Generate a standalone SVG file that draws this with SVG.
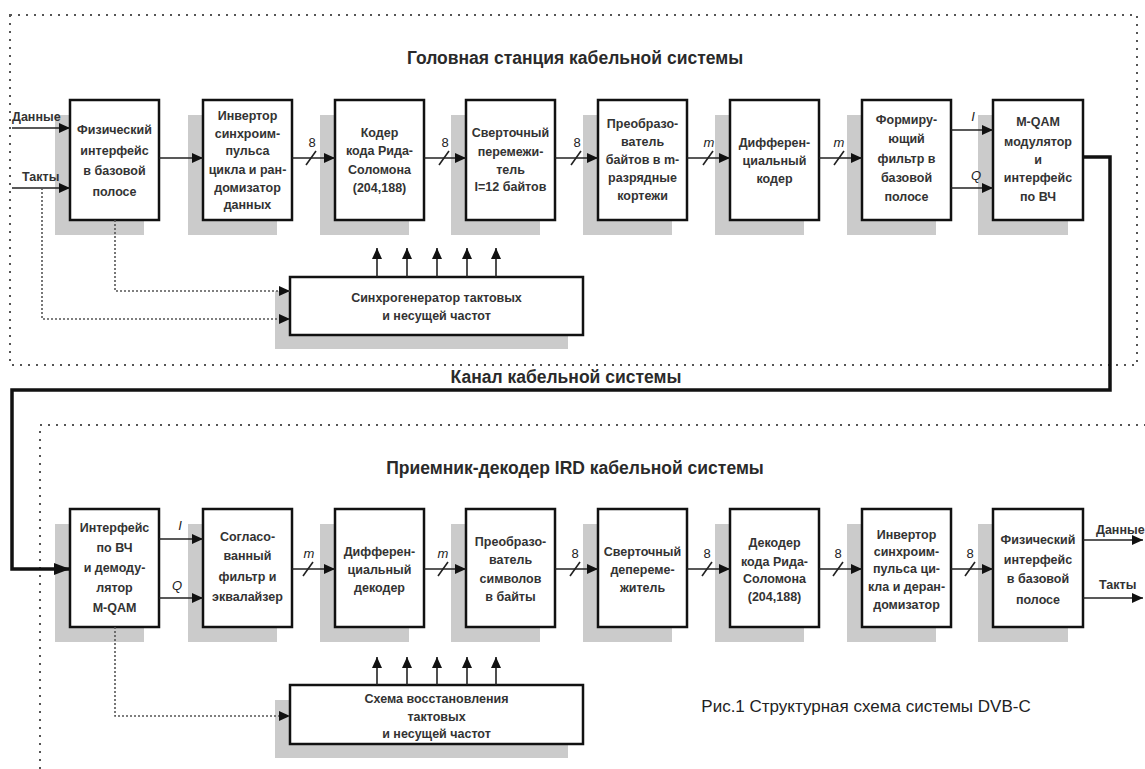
<svg xmlns="http://www.w3.org/2000/svg" width="1145" height="769" viewBox="0 0 1145 769">
<style>
.bx{fill:#fff;stroke:#111;stroke-width:2.5}
.sh{fill:#cbcbcb}
.t{font-family:"Liberation Sans",Arial,sans-serif;font-size:12.5px;font-weight:bold;fill:#333;text-anchor:middle}
.ttl{font-family:"Liberation Sans",Arial,sans-serif;font-size:17.5px;font-weight:bold;fill:#2a2a2a;text-anchor:middle}
.cap{font-family:"Liberation Sans",Arial,sans-serif;font-size:17px;fill:#222;text-anchor:middle}
.lb{font-family:"Liberation Sans",Arial,sans-serif;font-size:12.5px;font-weight:bold;fill:#333}
.lbi{font-family:"Liberation Sans",Arial,sans-serif;font-size:13px;font-style:italic;fill:#222;text-anchor:middle}
.ln{fill:none;stroke:#222;stroke-width:1.6}
.dl{fill:none;stroke:#555;stroke-width:1.6;stroke-dasharray:2 2}
.thick{fill:none;stroke:#111;stroke-width:3.5}
.brd{fill:none;stroke:#555;stroke-width:2;stroke-dasharray:2 6}
.sl{stroke:#222;stroke-width:1.6}
</style>
<defs>
<marker id="ar" markerUnits="userSpaceOnUse" markerWidth="11" markerHeight="10" refX="11" refY="5" orient="auto"><path d="M0,0 L11,5 L0,10 z" fill="#111"/></marker>
<marker id="arT" markerUnits="userSpaceOnUse" markerWidth="16" markerHeight="12" refX="16" refY="6" orient="auto"><path d="M0,0 L16,6 L0,12 z" fill="#111"/></marker>
</defs>
<rect width="1145" height="769" fill="#fff"/>

<!-- borders and titles -->
<g id="head-station-frame">
<rect class="brd" x="10" y="15" width="1127" height="350"/>
<text class="ttl" x="575" y="64">Головная станция кабельной системы</text>
</g>
<g id="ird-frame">
<path class="brd" d="M40,769 V425 H1145"/>
<text class="ttl" x="575" y="474">Приемник-декодер IRD кабельной системы</text>
</g>
<text class="ttl" x="566" y="383">Канал кабельной системы</text>
<text class="cap" x="866" y="712">Рис.1  Структурная схема системы DVB-C</text>

<!-- top row -->
<g id="t1"><rect class="sh" x="55" y="115" width="89" height="120"/><rect class="bx" x="70" y="100" width="89" height="120"/>
<text class="t"><tspan x="114.5" y="134">Физический</tspan><tspan x="114.5" y="155">интерфейс</tspan><tspan x="114.5" y="175">в базовой</tspan><tspan x="114.5" y="196">полосе</tspan></text></g>
<g id="t2"><rect class="sh" x="188" y="115" width="89" height="120"/><rect class="bx" x="203" y="100" width="89" height="120"/>
<text class="t"><tspan x="247.5" y="120">Инвертор</tspan><tspan x="247.5" y="138">синхроим-</tspan><tspan x="247.5" y="155">пульса</tspan><tspan x="247.5" y="174">цикла и ран-</tspan><tspan x="247.5" y="192">домизатор</tspan><tspan x="247.5" y="209">данных</tspan></text></g>
<g id="t3"><rect class="sh" x="320" y="115" width="89" height="120"/><rect class="bx" x="335" y="100" width="89" height="120"/>
<text class="t"><tspan x="379.5" y="137">Кодер</tspan><tspan x="379.5" y="155">кода Рида-</tspan><tspan x="379.5" y="174">Соломона</tspan><tspan x="379.5" y="192">(204,188)</tspan></text></g>
<g id="t4"><rect class="sh" x="451" y="115" width="89" height="120"/><rect class="bx" x="466" y="100" width="89" height="120"/>
<text class="t"><tspan x="510.5" y="137">Сверточный</tspan><tspan x="510.5" y="156">перемежи-</tspan><tspan x="510.5" y="174">тель</tspan><tspan x="510.5" y="191">I=12 байтов</tspan></text></g>
<g id="t5"><rect class="sh" x="583" y="115" width="89" height="120"/><rect class="bx" x="598" y="100" width="89" height="120"/>
<text class="t"><tspan x="642.5" y="128">Преобразо-</tspan><tspan x="642.5" y="146">ватель</tspan><tspan x="642.5" y="164">байтов в m-</tspan><tspan x="642.5" y="182">разрядные</tspan><tspan x="642.5" y="200">кортежи</tspan></text></g>
<g id="t6"><rect class="sh" x="715" y="115" width="89" height="120"/><rect class="bx" x="730" y="100" width="89" height="120"/>
<text class="t"><tspan x="774.5" y="147">Дифферен-</tspan><tspan x="774.5" y="165">циальный</tspan><tspan x="774.5" y="183">кодер</tspan></text></g>
<g id="t7"><rect class="sh" x="847" y="115" width="89" height="120"/><rect class="bx" x="862" y="100" width="89" height="120"/>
<text class="t"><tspan x="906.5" y="124">Формиру-</tspan><tspan x="906.5" y="143">ющий</tspan><tspan x="906.5" y="163">фильтр в</tspan><tspan x="906.5" y="182">базовой</tspan><tspan x="906.5" y="201">полосе</tspan></text></g>
<g id="t8"><rect class="sh" x="978" y="115" width="90" height="120"/><rect class="bx" x="993" y="100" width="90" height="120"/>
<text class="t"><tspan x="1038" y="126">M-QAM</tspan><tspan x="1038" y="146">модулятор</tspan><tspan x="1038" y="164">и</tspan><tspan x="1038" y="182">интерфейс</tspan><tspan x="1038" y="201">по ВЧ</tspan></text></g>
<g id="sync-gen"><rect class="sh" x="275" y="291" width="293" height="58"/><rect class="bx" x="290" y="277" width="293" height="58"/>
<text class="t"><tspan x="436.5" y="302">Синхрогенератор тактовых</tspan><tspan x="436.5" y="320">и несущей частот</tspan></text></g>

<!-- bottom row -->
<g id="b1"><rect class="sh" x="55" y="524" width="89" height="118"/><rect class="bx" x="70" y="509" width="89" height="118"/>
<text class="t"><tspan x="114.5" y="532">Интерфейс</tspan><tspan x="114.5" y="552">по ВЧ</tspan><tspan x="114.5" y="572">и демоду-</tspan><tspan x="114.5" y="592">лятор</tspan><tspan x="114.5" y="612">M-QAM</tspan></text></g>
<g id="b2"><rect class="sh" x="188" y="524" width="89" height="118"/><rect class="bx" x="203" y="509" width="89" height="118"/>
<text class="t"><tspan x="247.5" y="541">Согласо-</tspan><tspan x="247.5" y="560">ванный</tspan><tspan x="247.5" y="581">фильтр и</tspan><tspan x="247.5" y="601">эквалайзер</tspan></text></g>
<g id="b3"><rect class="sh" x="320" y="524" width="89" height="118"/><rect class="bx" x="335" y="509" width="89" height="118"/>
<text class="t"><tspan x="379.5" y="556">Дифферен-</tspan><tspan x="379.5" y="574">циальный</tspan><tspan x="379.5" y="592">декодер</tspan></text></g>
<g id="b4"><rect class="sh" x="451" y="524" width="89" height="118"/><rect class="bx" x="466" y="509" width="89" height="118"/>
<text class="t"><tspan x="510.5" y="546">Преобразо-</tspan><tspan x="510.5" y="564">ватель</tspan><tspan x="510.5" y="583">символов</tspan><tspan x="510.5" y="601">в байты</tspan></text></g>
<g id="b5"><rect class="sh" x="583" y="524" width="89" height="118"/><rect class="bx" x="598" y="509" width="89" height="118"/>
<text class="t"><tspan x="642.5" y="556">Сверточный</tspan><tspan x="642.5" y="574">депереме-</tspan><tspan x="642.5" y="592">житель</tspan></text></g>
<g id="b6"><rect class="sh" x="715" y="524" width="89" height="118"/><rect class="bx" x="730" y="509" width="89" height="118"/>
<text class="t"><tspan x="774.5" y="547">Декодер</tspan><tspan x="774.5" y="566">кода Рида-</tspan><tspan x="774.5" y="583">Соломона</tspan><tspan x="774.5" y="601">(204,188)</tspan></text></g>
<g id="b7"><rect class="sh" x="847" y="524" width="89" height="118"/><rect class="bx" x="862" y="509" width="89" height="118"/>
<text class="t"><tspan x="906.5" y="539">Инвертор</tspan><tspan x="906.5" y="556">синхроим-</tspan><tspan x="906.5" y="573">пульса ци-</tspan><tspan x="906.5" y="591">кла и деран-</tspan><tspan x="906.5" y="609">домизатор</tspan></text></g>
<g id="b8"><rect class="sh" x="978" y="524" width="90" height="118"/><rect class="bx" x="993" y="509" width="90" height="118"/>
<text class="t"><tspan x="1038" y="544">Физический</tspan><tspan x="1038" y="564">интерфейс</tspan><tspan x="1038" y="583">в базовой</tspan><tspan x="1038" y="604">полосе</tspan></text></g>
<g id="clock-recovery"><rect class="sh" x="275" y="700" width="293" height="58"/><rect class="bx" x="290" y="685" width="293" height="59"/>
<text class="t"><tspan x="436.5" y="703">Схема восстановления</tspan><tspan x="436.5" y="721">тактовых</tspan><tspan x="436.5" y="738">и несущей частот</tspan></text></g>

<!-- connectors -->
<g id="connectors">
<path class="ln" d="M12,128 H70" marker-end="url(#ar)"/>
<path class="ln" d="M12,188 H70" marker-end="url(#ar)"/>
<text class="lb" x="12" y="121">Данные</text>
<text class="lb" x="22" y="181">Такты</text>
<path class="ln" d="M159,158 H203" marker-end="url(#ar)"/>
<path class="ln" d="M292,158 H335" marker-end="url(#ar)"/>
<path class="ln" d="M424,158 H466" marker-end="url(#ar)"/>
<path class="ln" d="M555,158 H598" marker-end="url(#ar)"/>
<path class="ln" d="M687,158 H730" marker-end="url(#ar)"/>
<path class="ln" d="M819,158 H862" marker-end="url(#ar)"/>
<path class="ln" d="M951,130 H993" marker-end="url(#ar)"/>
<path class="ln" d="M951,188 H993" marker-end="url(#ar)"/>
<line class="sl" x1="306" y1="165" x2="316" y2="151"/>
<line class="sl" x1="439" y1="165" x2="449" y2="151"/>
<line class="sl" x1="571" y1="165" x2="581" y2="151"/>
<line class="sl" x1="703" y1="165" x2="713" y2="151"/>
<line class="sl" x1="834" y1="165" x2="844" y2="151"/>
<text class="lbi" x="312" y="147" style="font-style:normal">8</text>
<text class="lbi" x="445" y="147" style="font-style:normal">8</text>
<text class="lbi" x="577" y="147" style="font-style:normal">8</text>
<text class="lbi" x="709" y="147">m</text>
<text class="lbi" x="839" y="147">m</text>
<text class="lbi" x="973" y="121">I</text>
<text class="lbi" x="976" y="180">Q</text>
<path class="dl" d="M115,220 V291 H290" marker-end="url(#ar)"/>
<path class="dl" d="M42,188 V319 H290" marker-end="url(#ar)"/>
<path class="ln" d="M377,277 V248" marker-end="url(#ar)"/>
<path class="ln" d="M407,277 V248" marker-end="url(#ar)"/>
<path class="ln" d="M437,277 V248" marker-end="url(#ar)"/>
<path class="ln" d="M467,277 V248" marker-end="url(#ar)"/>
<path class="ln" d="M496,277 V248" marker-end="url(#ar)"/>
<path class="thick" d="M1083,157 H1110 V390 H12 V569 H70" marker-end="url(#arT)"/>
<path class="ln" d="M159,539 H203" marker-end="url(#ar)"/>
<path class="ln" d="M159,598 H203" marker-end="url(#ar)"/>
<text class="lbi" x="180" y="530">I</text>
<text class="lbi" x="177" y="590">Q</text>
<path class="ln" d="M292,569 H335" marker-end="url(#ar)"/>
<path class="ln" d="M424,569 H466" marker-end="url(#ar)"/>
<path class="ln" d="M555,569 H598" marker-end="url(#ar)"/>
<path class="ln" d="M687,569 H730" marker-end="url(#ar)"/>
<path class="ln" d="M819,569 H862" marker-end="url(#ar)"/>
<path class="ln" d="M951,569 H993" marker-end="url(#ar)"/>
<line class="sl" x1="303" y1="576" x2="313" y2="562"/>
<line class="sl" x1="438" y1="576" x2="448" y2="562"/>
<line class="sl" x1="570" y1="576" x2="580" y2="562"/>
<line class="sl" x1="702" y1="576" x2="712" y2="562"/>
<line class="sl" x1="833" y1="576" x2="843" y2="562"/>
<line class="sl" x1="965" y1="576" x2="975" y2="562"/>
<text class="lbi" x="309" y="558">m</text>
<text class="lbi" x="443" y="558">m</text>
<text class="lbi" x="575" y="558" style="font-style:normal">8</text>
<text class="lbi" x="707" y="558" style="font-style:normal">8</text>
<text class="lbi" x="838" y="558" style="font-style:normal">8</text>
<text class="lbi" x="970" y="558" style="font-style:normal">8</text>
<path class="ln" d="M1083,540 H1143" marker-end="url(#ar)"/>
<path class="ln" d="M1083,598 H1143" marker-end="url(#ar)"/>
<text class="lb" x="1096" y="534">Данные</text>
<text class="lb" x="1099" y="589">Такты</text>
<path class="dl" d="M115,627 V716 H290" marker-end="url(#ar)"/>
<path class="ln" d="M377,685 V657" marker-end="url(#ar)"/>
<path class="ln" d="M407,685 V657" marker-end="url(#ar)"/>
<path class="ln" d="M437,685 V657" marker-end="url(#ar)"/>
<path class="ln" d="M467,685 V657" marker-end="url(#ar)"/>
<path class="ln" d="M496,685 V657" marker-end="url(#ar)"/>
</g>
</svg>
